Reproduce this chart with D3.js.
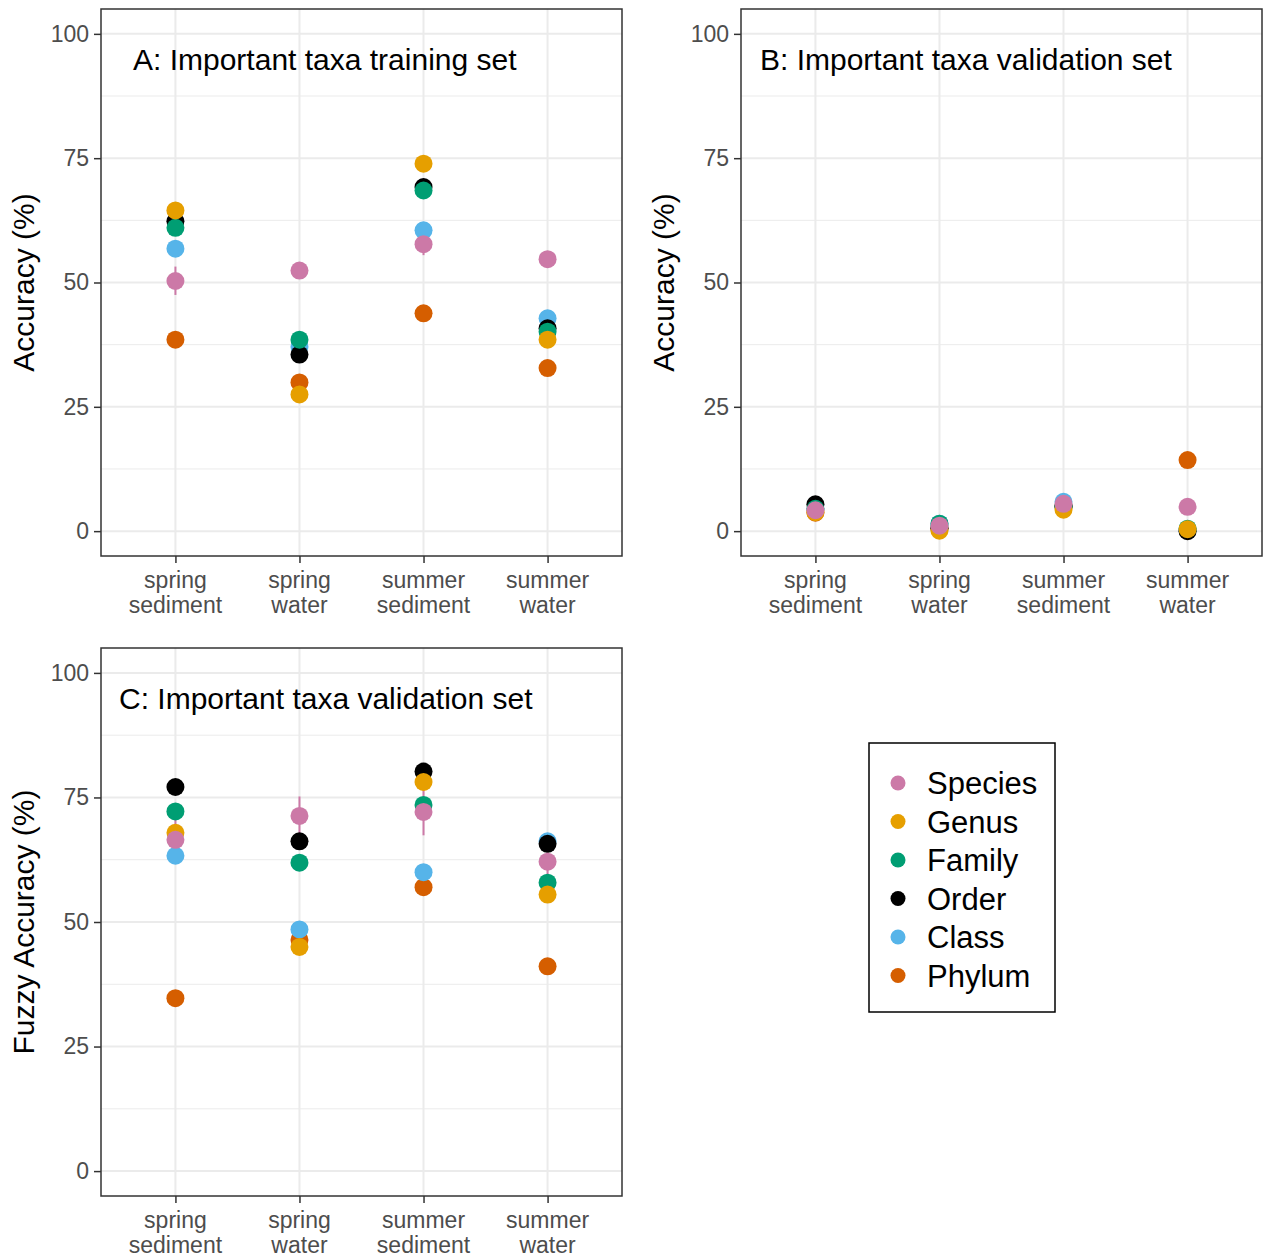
<!DOCTYPE html>
<html>
<head>
<meta charset="utf-8">
<script src="https://cdn.jsdelivr.net/npm/d3@7"></script>
<style>
  body { margin: 0; background: #fff; }
  svg { font-family: "Liberation Sans", Arial, sans-serif; }
</style>
</head>
<body>
<svg id="chart" width="1265" height="1258"></svg>
<script>
// categories and taxa
var sites = ["spring sediment", "spring water", "summer sediment", "summer water"];
var taxa = ["Species", "Genus", "Family", "Order", "Class", "Phylum"];
var taxaColors = ["#CC79A7", "#E69F00", "#009E73", "#000000", "#56B4E9", "#D55E00"];
var yTicks = [0, 25, 50, 75, 100];

// A: training set accuracy
var aSpecies = [50.3, 52.4, 57.7, 54.7];
var aGenus   = [64.5, 27.5, 73.9, 38.5];
var aFamily  = [61.0, 38.5, 68.5, 40.1];
var aOrder   = [62.3, 35.5, 69.2, 40.8];
var aClass   = [56.8, 37.1, 60.5, 42.8];
var aPhylum  = [38.5, 29.9, 43.8, 32.8];
var aSpeciesLo = [47.5, 52.4, 55.5, 54.7];
var aSpeciesHi = [53.2, 52.4, 59.9, 54.7];

// B: validation set accuracy
var bSpecies = [4.2, 1.1, 5.5, 4.9];
var bGenus   = [3.8, 0.1, 4.3, 0.4];
var bFamily  = [4.5, 1.5, 5.0, 0.5];
var bOrder   = [5.4, 0.6, 5.1, 0.0];
var bClass   = [4.5, 1.5, 5.9, 0.2];
var bPhylum  = [3.7, 0.5, 5.0, 14.3];

// C: validation set fuzzy accuracy
var cSpecies = [66.5, 71.3, 72.1, 62.1];
var cGenus   = [67.9, 45.0, 78.1, 55.5];
var cFamily  = [72.2, 61.9, 73.5, 57.9];
var cOrder   = [77.1, 66.2, 80.2, 65.7];
var cClass   = [63.3, 48.5, 60.0, 66.2];
var cPhylum  = [34.7, 46.4, 57.0, 41.1];
var cSpeciesLo = [62.5, 67.4, 67.4, 59.6];
var cSpeciesHi = [70.5, 75.2, 76.6, 64.6];

var svg = d3.select("#chart");

function drawPanel(p) {
  var x = d3.scalePoint().domain(sites).range([p.left, p.right]).padding(0.6);
  var y = d3.scaleLinear().domain([-5, 105]).range([p.bottom, p.top]);
  var g = svg.append("g");

  // minor grid
  g.selectAll(".minor").data([12.5, 37.5, 62.5, 87.5]).enter().append("line")
    .attr("x1", p.left).attr("x2", p.right)
    .attr("y1", function (d) { return y(d); }).attr("y2", function (d) { return y(d); })
    .attr("stroke", "#ebebeb").attr("stroke-width", 1);
  // major grid
  g.selectAll(".major").data(yTicks).enter().append("line")
    .attr("x1", p.left).attr("x2", p.right)
    .attr("y1", function (d) { return y(d); }).attr("y2", function (d) { return y(d); })
    .attr("stroke", "#ebebeb").attr("stroke-width", 2);
  g.selectAll(".vgrid").data(sites).enter().append("line")
    .attr("x1", function (d) { return x(d); }).attr("x2", function (d) { return x(d); })
    .attr("y1", p.top).attr("y2", p.bottom)
    .attr("stroke", "#ebebeb").attr("stroke-width", 2);

  // species error bars
  if (p.lo) {
    g.selectAll(".err").data(sites).enter().append("line")
      .attr("x1", function (d) { return x(d); }).attr("x2", function (d) { return x(d); })
      .attr("y1", function (d, i) { return y(p.lo[i]); })
      .attr("y2", function (d, i) { return y(p.hi[i]); })
      .attr("stroke", taxaColors[0]).attr("stroke-width", 2);
  }

  // points, drawn Phylum first so Species sits on top
  for (var t = taxa.length - 1; t >= 0; t--) {
    g.selectAll(".pt" + t).data(p.series[t]).enter().append("circle")
      .attr("cx", function (d, i) { return x(sites[i]); })
      .attr("cy", function (d) { return y(d); })
      .attr("r", 9)
      .attr("fill", taxaColors[t]);
  }

  // border
  g.append("rect").attr("x", p.left).attr("y", p.top)
    .attr("width", p.right - p.left).attr("height", p.bottom - p.top)
    .attr("fill", "none").attr("stroke", "#333").attr("stroke-width", 1.5);

  // y axis
  var ya = g.append("g").attr("transform", "translate(" + p.left + ",0)")
    .call(d3.axisLeft(y).tickValues(yTicks).tickSize(7).tickPadding(5));
  ya.select(".domain").remove();
  ya.selectAll("line").attr("stroke", "#333").attr("stroke-width", 1.5);
  ya.selectAll("text").attr("fill", "#4d4d4d").style("font-size", "23px")
    .style("font-family", "'Liberation Sans', Arial, sans-serif");

  // x axis
  var xa = g.append("g").attr("transform", "translate(0," + p.bottom + ")")
    .call(d3.axisBottom(x).tickSize(7).tickFormat(""));
  xa.select(".domain").remove();
  xa.selectAll("line").attr("stroke", "#333").attr("stroke-width", 1.5);
  g.selectAll(".xlab").data(sites).enter().append("text")
    .attr("x", function (d) { return x(d); })
    .attr("y", p.bottom + 32)
    .attr("text-anchor", "middle")
    .attr("fill", "#4d4d4d").style("font-size", "23px")
    .each(function (d) {
      var parts = d.split(" ");
      var el = d3.select(this);
      el.append("tspan").attr("x", x(d)).attr("dy", 0).text(parts[0]);
      el.append("tspan").attr("x", x(d)).attr("dy", 25).text(parts[1]);
    });

  // y title
  g.append("text")
    .attr("transform", "translate(" + (p.left - 67) + "," + ((p.top + p.bottom) / 2) + ") rotate(-90)")
    .attr("text-anchor", "middle")
    .style("font-size", "30px")
    .text(p.ytitle);

  // panel title
  g.append("text").attr("x", p.titleX).attr("y", p.top + 61)
    .style("font-size", "30px").text(p.title);
}

drawPanel({ left: 101, right: 622, top: 9, bottom: 556,
  series: [aSpecies, aGenus, aFamily, aOrder, aClass, aPhylum],
  lo: aSpeciesLo, hi: aSpeciesHi,
  ytitle: "Accuracy (%)", title: "A: Important taxa training set", titleX: 133 });

drawPanel({ left: 741, right: 1262, top: 9, bottom: 556,
  series: [bSpecies, bGenus, bFamily, bOrder, bClass, bPhylum],
  ytitle: "Accuracy (%)", title: "B: Important taxa validation set", titleX: 760 });

drawPanel({ left: 101, right: 622, top: 648, bottom: 1196,
  series: [cSpecies, cGenus, cFamily, cOrder, cClass, cPhylum],
  lo: cSpeciesLo, hi: cSpeciesHi,
  ytitle: "Fuzzy Accuracy (%)", title: "C: Important taxa validation set", titleX: 119 });

// legend
var leg = svg.append("g");
leg.append("rect").attr("x", 869).attr("y", 743).attr("width", 186).attr("height", 269)
  .attr("fill", "#fff").attr("stroke", "#000").attr("stroke-width", 1.5);
var rows = leg.selectAll(".row").data(taxa).enter().append("g")
  .attr("transform", function (d, i) { return "translate(0," + (783 + i * 38.5) + ")"; });
rows.append("circle").attr("cx", 898).attr("cy", 0).attr("r", 7.5)
  .attr("fill", function (d, i) { return taxaColors[i]; });
rows.append("text").attr("x", 927).attr("y", 11)
  .style("font-size", "31px").text(function (d) { return d; });
</script>
</body>
</html>
